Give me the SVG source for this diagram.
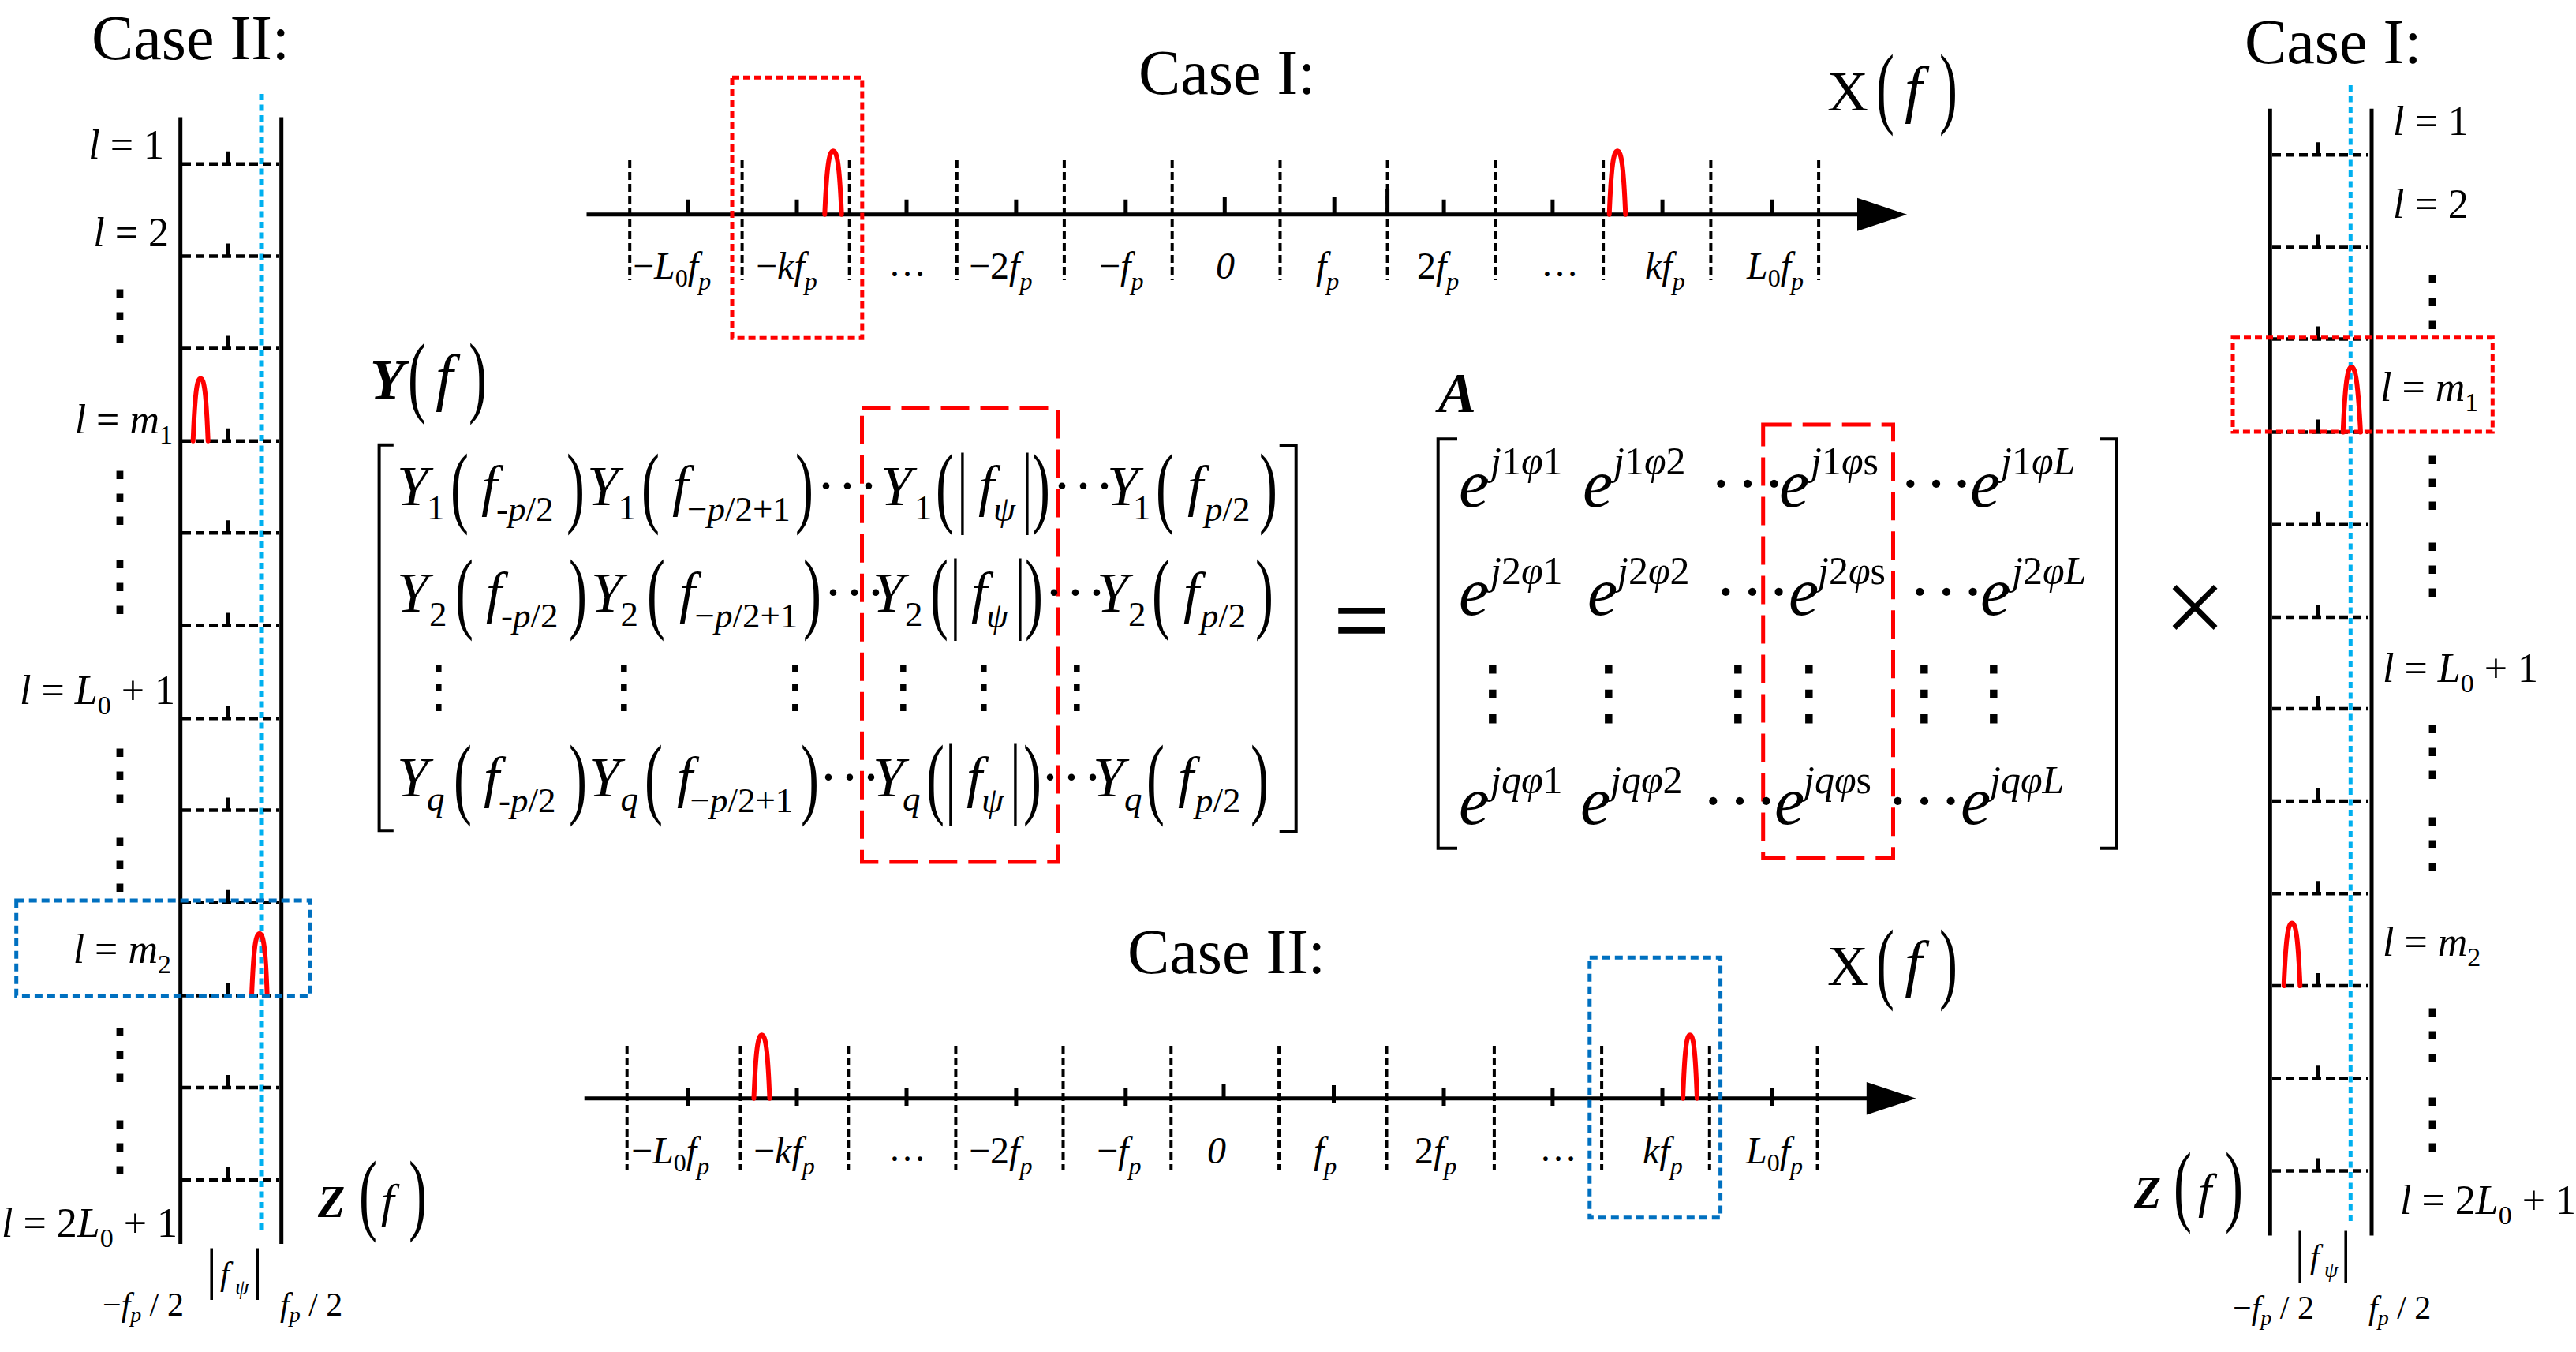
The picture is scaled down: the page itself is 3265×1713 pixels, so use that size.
<svg xmlns="http://www.w3.org/2000/svg" width="3265" height="1713" viewBox="0 0 3265 1713">
<style>
text{font-family:"Liberation Serif","Times New Roman",serif;fill:#000}
.i{font-style:italic}
.b{font-weight:bold}
.case{font-size:80px}
.lab{font-size:52px}
.ls{font-size:34px}
.ax{font-size:48px}
.axs{font-size:32px}
.m{font-size:72px}
.ms{font-size:45px}
.pr{font-size:115px}
.e{font-size:86px}
.sup{font-size:50px}
.bl{font-size:42px}
.bls{font-size:28px}
.vd{font-family:"DejaVu Sans",sans-serif;text-anchor:middle}
.bar{stroke:#000;stroke-width:5;fill:none}
.rung{stroke:#000;stroke-width:4.5;stroke-dasharray:11 6;fill:none}
.tick{stroke:#000;stroke-width:5;fill:none}
.axis{stroke:#000;stroke-width:5;fill:none}
.vdash{stroke:#000;stroke-width:4;stroke-dasharray:10 5;fill:none}
.cyan{stroke:#00B0F0;stroke-width:5;stroke-dasharray:8 5.5;fill:none}
.bump{stroke:#FF0000;stroke-width:6;fill:none;stroke-linecap:round}
.rbox{stroke:#FF0000;stroke-width:5;stroke-dasharray:9 5;fill:none}
.bbox{stroke:#0070C0;stroke-width:5;stroke-dasharray:10 6;fill:none}
.rbig{stroke:#FF0000;stroke-width:5;stroke-dasharray:36 14;fill:none}
.brk{stroke:#000;stroke-width:4;fill:none}
</style>

<!-- Left ladder (Case II) -->
<g id="left-ladder">
<text class="case" x="116" y="75">Case II:</text>
<path class="cyan" d="M331 119V1558"/>
<path class="bar" d="M228.7 148.5V1576M356.7 148.5V1576"/>
<path class="rung" d="M231 207.8H353M231 324.5H353M231 441.6H353M231 558.7H353M231 675.2H353M231 792.4H353M231 910.2H353M231 1026.6H353M231 1143.7H353M231 1261.6H353M231 1378H353M231 1495H353"/>
<path class="tick" d="M289.3 191.8V207.8M289.3 308.5V324.5M289.3 425.6V441.6M289.3 542.7V558.7M289.3 659.2V675.2M289.3 776.4V792.4M289.3 894.2V910.2M289.3 1010.6V1026.6M289.3 1127.7V1143.7M289.3 1245.6V1261.6M289.3 1362V1378M289.3 1479V1495"/>
<path class="bump" d="M244.7 558.7C247 499.2 249.5 479.4 254.2 479.4C258.9 479.4 261.4 499.2 263.7 558.7"/>
<path class="bump" d="M319 1261.6C321.4 1202.7 323.9 1183 329 1183C334.1 1183 336.6 1202.7 338.7 1261.6"/>
<rect class="bbox" x="20.7" y="1141" width="372.3" height="120.6"/>
<text class="lab" x="208" y="201" text-anchor="end"><tspan class="i">l</tspan> = 1</text>
<text class="lab" x="214" y="312" text-anchor="end"><tspan class="i">l</tspan> = 2</text>
<text class="lab" x="219" y="549" text-anchor="end"><tspan class="i">l</tspan> = <tspan class="i">m</tspan><tspan class="ls" dy="13">1</tspan></text>
<text class="lab" x="222" y="892" text-anchor="end"><tspan class="i">l</tspan> = <tspan class="i">L</tspan><tspan class="ls" dy="13">0</tspan><tspan dy="-13"> + 1</tspan></text>
<text class="lab" x="217" y="1220" text-anchor="end"><tspan class="i">l</tspan> = <tspan class="i">m</tspan><tspan class="ls" dy="13">2</tspan></text>
<text class="lab" x="225" y="1567" text-anchor="end"><tspan class="i">l</tspan> = 2<tspan class="i">L</tspan><tspan class="ls" dy="13">0</tspan><tspan dy="-13"> + 1</tspan></text>
<text class="vd" x="152" y="427" font-size="85">⋮</text>
<text class="vd" x="152" y="657" font-size="85">⋮</text>
<text class="vd" x="152" y="770" font-size="85">⋮</text>
<text class="vd" x="152" y="1009" font-size="85">⋮</text>
<text class="vd" x="152" y="1122" font-size="85">⋮</text>
<text class="vd" x="152" y="1363" font-size="85">⋮</text>
<text class="vd" x="152" y="1480" font-size="85">⋮</text>
<text class="b i" x="403" y="1542" font-size="56">Z</text>
<text class="pr" font-size="86" transform="translate(455 1550) scale(0.6 1)">(</text>
<text class="i" x="483" y="1541" font-size="60">f</text>
<text class="pr" font-size="86" transform="translate(518 1550) scale(0.6 1)">)</text>
<text class="bl" x="130" y="1667">−<tspan class="i">f</tspan><tspan class="bls i" dy="8">p</tspan><tspan dy="-8"> / 2</tspan></text>
<text x="261" y="1632" font-size="72">|</text>
<text class="bl i" x="279" y="1628">f</text>
<text class="bls i" x="298" y="1640">ψ</text>
<text x="319" y="1632" font-size="72">|</text>
<text class="bl" x="355" y="1667"><tspan class="i">f</tspan><tspan class="bls i" dy="8">p</tspan><tspan dy="-8"> / 2</tspan></text>
</g>

<!-- Right ladder (Case I) -->
<g id="right-ladder">
<text class="case" x="2845" y="80">Case I:</text>
<path class="cyan" d="M2979.3 108V1549"/>
<path class="bar" d="M2877.3 137.8V1565.5M3006 137.8V1565.5"/>
<path class="rung" d="M2880 196.3H3002M2880 313.4H3002M2880 429.4H3002M2880 547.6H3002M2880 664.8H3002M2880 781.9H3002M2880 898H3002M2880 1015.1H3002M2880 1132.3H3002M2880 1249H3002M2880 1366.3H3002M2880 1483.5H3002"/>
<path class="tick" d="M2938.3 180.3V196.3M2938.3 297.4V313.4M2938.3 413.4V429.4M2938.3 531.6V547.6M2938.3 648.8V664.8M2938.3 765.9V781.9M2938.3 882V898M2938.3 999.1V1015.1M2938.3 1116.3V1132.3M2938.3 1233V1249M2938.3 1350.3V1366.3M2938.3 1467.5V1483.5"/>
<path class="bump" d="M2969.7 547.6C2972.4 485.7 2975.3 465 2980.5 465C2985.7 465 2988.6 485.7 2992 547.6"/>
<path class="bump" d="M2894.7 1249C2897.2 1189.4 2899.9 1169.5 2905 1169.5C2910.1 1169.5 2912.8 1189.4 2915.3 1249"/>
<rect class="rbox" x="2830" y="427.7" width="329.3" height="119.3"/>
<text class="lab" x="3033" y="171"><tspan class="i">l</tspan> = 1</text>
<text class="lab" x="3033" y="275.5"><tspan class="i">l</tspan> = 2</text>
<text class="lab" x="3017" y="508"><tspan class="i">l</tspan> = <tspan class="i">m</tspan><tspan class="ls" dy="13">1</tspan></text>
<text class="lab" x="3020" y="864"><tspan class="i">l</tspan> = <tspan class="i">L</tspan><tspan class="ls" dy="13">0</tspan><tspan dy="-13"> + 1</tspan></text>
<text class="lab" x="3020" y="1210.5"><tspan class="i">l</tspan> = <tspan class="i">m</tspan><tspan class="ls" dy="13">2</tspan></text>
<text class="lab" x="3042" y="1538"><tspan class="i">l</tspan> = 2<tspan class="i">L</tspan><tspan class="ls" dy="13">0</tspan><tspan dy="-13"> + 1</tspan></text>
<text class="vd" x="3083" y="409" font-size="85">⋮</text>
<text class="vd" x="3083" y="638" font-size="85">⋮</text>
<text class="vd" x="3083" y="748" font-size="85">⋮</text>
<text class="vd" x="3083" y="979" font-size="85">⋮</text>
<text class="vd" x="3083" y="1096" font-size="85">⋮</text>
<text class="vd" x="3083" y="1338" font-size="85">⋮</text>
<text class="vd" x="3083" y="1451" font-size="85">⋮</text>
<text class="b i" x="2705" y="1530" font-size="56">Z</text>
<text class="pr" font-size="88" transform="translate(2755 1539) scale(0.6 1)">(</text>
<text class="i" x="2786" y="1530" font-size="62">f</text>
<text class="pr" font-size="88" transform="translate(2820 1539) scale(0.6 1)">)</text>
<text class="bl" x="2830" y="1671">−<tspan class="i">f</tspan><tspan class="bls i" dy="8">p</tspan><tspan dy="-8"> / 2</tspan></text>
<text x="2908" y="1610" font-size="72">|</text>
<text class="bl i" x="2928" y="1606">f</text>
<text class="bls i" x="2946" y="1618">ψ</text>
<text x="2966" y="1610" font-size="72">|</text>
<text class="bl" x="3002" y="1671"><tspan class="i">f</tspan><tspan class="bls i" dy="8">p</tspan><tspan dy="-8"> / 2</tspan></text>
</g>

<!-- Top axis (Case I) -->
<g id="top-axis">
<text class="case" x="1443" y="119">Case I:</text>
<path class="axis" d="M743.5 271.7H2358"/>
<polygon points="2354,250.7 2417,271.7 2354,292.7" fill="#000"/>
<path class="vdash" d="M798.2 203V355M940.6 203V355M1076.7 203V355M1212.8 203V355M1348.9 203V355M1485.7 203V355M1622.5 203V355M1758.6 203V355M1895.4 203V355M2032.1 203V355M2168.4 203V355M2305.1 203V355"/>
<path class="tick" d="M871.9 252.7V271.7M1010 252.7V271.7M1149 252.7V271.7M1287.9 252.7V271.7M1426.8 252.7V271.7M1552.3 249V271.7M1691.2 249V271.7M1758.6 240V271.7M1830.1 252.7V271.7M1967.9 252.7V271.7M2107.1 252.7V271.7M2245.9 252.7V271.7"/>
<path class="bump" d="M1045.3 271.7C1047.9 211.4 1050.7 191.3 1056 191.3C1061.3 191.3 1064.1 211.4 1066.7 271.7"/>
<path class="bump" d="M2039.7 271.7C2042.2 211.4 2044.9 191.3 2050 191.3C2055.1 191.3 2057.8 211.4 2060.3 271.7"/>
<rect class="rbox" x="928" y="98.3" width="164.8" height="330"/>
<text class="ax" x="802" y="353">−<tspan class="i">L</tspan><tspan class="axs" dy="10">0</tspan><tspan class="i" dy="-10">f</tspan><tspan class="axs i" dy="14">p</tspan></text>
<text class="ax" x="958" y="353">−<tspan class="i">kf</tspan><tspan class="axs i" dy="14">p</tspan></text>
<text class="ax" x="1126" y="350" font-size="44">…</text>
<text class="ax" x="1228" y="353">−2<tspan class="i">f</tspan><tspan class="axs i" dy="14">p</tspan></text>
<text class="ax" x="1393" y="353">−<tspan class="i">f</tspan><tspan class="axs i" dy="14">p</tspan></text>
<text class="ax i" x="1541" y="353">0</text>
<text class="ax" x="1668" y="353"><tspan class="i">f</tspan><tspan class="axs i" dy="14">p</tspan></text>
<text class="ax" x="1796" y="353">2<tspan class="i">f</tspan><tspan class="axs i" dy="14">p</tspan></text>
<text class="ax" x="1953" y="350" font-size="44">…</text>
<text class="ax" x="2085" y="353"><tspan class="i">kf</tspan><tspan class="axs i" dy="14">p</tspan></text>
<text class="ax" x="2214" y="353"><tspan class="i">L</tspan><tspan class="axs" dy="10">0</tspan><tspan class="i" dy="-10">f</tspan><tspan class="axs i" dy="14">p</tspan></text>
<text class="m" x="2316" y="140">X</text>
<text class="pr" font-size="103" transform="translate(2378 148.4) scale(0.6 1)">(</text>
<text class="i" x="2414" y="140" font-size="80">f</text>
<text class="pr" font-size="103" transform="translate(2458 148.4) scale(0.6 1)">)</text>
</g>

<!-- Bottom axis (Case II) -->
<g id="bottom-axis">
<text class="case" x="1429" y="1233">Case II:</text>
<path class="axis" d="M740.7 1391.7H2370"/>
<polygon points="2365.8,1371 2428.6,1391.7 2365.8,1412.4" fill="#000"/>
<path class="vdash" d="M794.7 1325V1482M938.5 1325V1482M1075.3 1325V1482M1211.4 1325V1482M1347.5 1325V1482M1484.3 1325V1482M1621.1 1325V1482M1757.5 1325V1482M1893.9 1325V1482M2030.1 1325V1482M2166.8 1325V1482M2303.6 1325V1482"/>
<path class="tick" d="M871.9 1378V1401M1010 1378V1401M1149 1378V1401M1287.9 1378V1401M1426.8 1378V1401M1551 1374V1392M1690.5 1375V1397M1830 1378V1401M1967.9 1378V1401M2107 1378V1401M2246 1378V1401"/>
<path class="bump" d="M955.5 1391.7C957.9 1331.4 960.5 1311.3 965.5 1311.3C970.5 1311.3 973.1 1331.4 975.5 1391.7"/>
<path class="bump" d="M2133 1391.7C2135.2 1331.4 2137.5 1311.3 2142 1311.3C2146.5 1311.3 2148.8 1331.4 2151 1391.7"/>
<rect class="bbox" x="2014.8" y="1213.3" width="165.8" height="329.4"/>
<text class="ax" x="800" y="1474">−<tspan class="i">L</tspan><tspan class="axs" dy="10">0</tspan><tspan class="i" dy="-10">f</tspan><tspan class="axs i" dy="14">p</tspan></text>
<text class="ax" x="955" y="1474">−<tspan class="i">kf</tspan><tspan class="axs i" dy="14">p</tspan></text>
<text class="ax" x="1126" y="1471" font-size="44">…</text>
<text class="ax" x="1228" y="1474">−2<tspan class="i">f</tspan><tspan class="axs i" dy="14">p</tspan></text>
<text class="ax" x="1390" y="1474">−<tspan class="i">f</tspan><tspan class="axs i" dy="14">p</tspan></text>
<text class="ax i" x="1530" y="1474">0</text>
<text class="ax" x="1665" y="1474"><tspan class="i">f</tspan><tspan class="axs i" dy="14">p</tspan></text>
<text class="ax" x="1793" y="1474">2<tspan class="i">f</tspan><tspan class="axs i" dy="14">p</tspan></text>
<text class="ax" x="1951" y="1471" font-size="44">…</text>
<text class="ax" x="2082" y="1474"><tspan class="i">kf</tspan><tspan class="axs i" dy="14">p</tspan></text>
<text class="ax" x="2213" y="1474"><tspan class="i">L</tspan><tspan class="axs" dy="10">0</tspan><tspan class="i" dy="-10">f</tspan><tspan class="axs i" dy="14">p</tspan></text>
<text class="m" x="2316" y="1248">X</text>
<text class="pr" font-size="103" transform="translate(2378 1256.6) scale(0.6 1)">(</text>
<text class="i" x="2414" y="1248" font-size="80">f</text>
<text class="pr" font-size="103" transform="translate(2458 1256.6) scale(0.6 1)">)</text>
</g>

<!-- Matrix Y(f) -->
<g id="matrix-Y">
<text class="b i" x="469" y="505" font-size="72">Y</text>
<text class="pr" font-size="101" transform="translate(517 514) scale(0.6 1)">(</text>
<text class="i" x="552" y="505" font-size="80">f</text>
<text class="pr" font-size="101" transform="translate(594 514) scale(0.6 1)">)</text>
<path class="brk" d="M498.8 563.7H480.6V1052.2H498.8M1621.7 564H1642.7V1053H1621.7"/>
<rect class="rbig" x="1092.5" y="517.6" width="248.2" height="574.4"/>
<!-- row 1 -->
<text class="m i" x="503" y="640">Υ</text><text class="ms" x="541" y="658">1</text>
<text class="pr" transform="translate(571 654.3) scale(0.6 1)">(</text>
<text class="m i" x="610" y="640">f</text><text class="ms" x="629" y="660">-<tspan class="i">p</tspan>/2</text>
<text class="pr" transform="translate(718 654.3) scale(0.6 1)">)</text>
<text class="m i" x="744" y="640">Υ</text><text class="ms" x="783.6" y="658">1</text>
<text class="pr" transform="translate(813 654.3) scale(0.6 1)">(</text>
<text class="m i" x="852" y="640">f</text><text class="ms" x="871" y="660">−<tspan class="i">p</tspan>/2+1</text>
<text class="pr" transform="translate(1008 654.3) scale(0.6 1)">)</text>
<text class="m" x="1035" y="640">·<tspan dx="3">·</tspan><tspan dx="3">·</tspan></text>
<text class="m i" x="1116" y="640">Υ</text><text class="ms" x="1159" y="658">1</text>
<text class="pr" transform="translate(1186 654.3) scale(0.6 1)">(</text>
<text class="pr" transform="translate(1213 654.3) scale(0.6 1)">|</text>
<text class="m i" x="1240" y="640">f</text><text class="ms i" x="1259" y="660">ψ</text>
<text class="pr" transform="translate(1295 654.3) scale(0.6 1)">|</text>
<text class="pr" transform="translate(1308 654.3) scale(0.6 1)">)</text>
<text class="m" x="1334" y="640">·<tspan dx="3">·</tspan><tspan dx="3">·</tspan></text>
<text class="m i" x="1403" y="640">Υ</text><text class="ms" x="1436" y="658">1</text>
<text class="pr" transform="translate(1465 654.3) scale(0.6 1)">(</text>
<text class="m i" x="1505" y="640">f</text><text class="ms" x="1527" y="660"><tspan class="i">p</tspan>/2</text>
<text class="pr" transform="translate(1596 654.3) scale(0.6 1)">)</text>
<!-- row 2 -->
<text class="m i" x="503" y="774.7">Υ</text><text class="ms" x="544" y="792.7">2</text>
<text class="pr" transform="translate(577 788) scale(0.6 1)">(</text>
<text class="m i" x="616" y="774.7">f</text><text class="ms" x="635" y="794.7">-<tspan class="i">p</tspan>/2</text>
<text class="pr" transform="translate(721 788) scale(0.6 1)">)</text>
<text class="m i" x="749" y="774.7">Υ</text><text class="ms" x="786.6" y="792.7">2</text>
<text class="pr" transform="translate(820 788) scale(0.6 1)">(</text>
<text class="m i" x="861" y="774.7">f</text><text class="ms" x="880.5" y="794.7">−<tspan class="i">p</tspan>/2+1</text>
<text class="pr" transform="translate(1018 788) scale(0.6 1)">)</text>
<text class="m" x="1044" y="774.7">·<tspan dx="3">·</tspan><tspan dx="3">·</tspan></text>
<text class="m i" x="1106" y="774.7">Υ</text><text class="ms" x="1147" y="792.7">2</text>
<text class="pr" transform="translate(1179 788) scale(0.6 1)">(</text>
<text class="pr" transform="translate(1204 788) scale(0.6 1)">|</text>
<text class="m i" x="1231" y="774.7">f</text><text class="ms i" x="1250" y="794.7">ψ</text>
<text class="pr" transform="translate(1286 788) scale(0.6 1)">|</text>
<text class="pr" transform="translate(1299 788) scale(0.6 1)">)</text>
<text class="m" x="1324" y="774.7">·<tspan dx="3">·</tspan><tspan dx="3">·</tspan></text>
<text class="m i" x="1390" y="774.7">Υ</text><text class="ms" x="1430" y="792.7">2</text>
<text class="pr" transform="translate(1460 788) scale(0.6 1)">(</text>
<text class="m i" x="1500" y="774.7">f</text><text class="ms" x="1521.7" y="794.7"><tspan class="i">p</tspan>/2</text>
<text class="pr" transform="translate(1591 788) scale(0.6 1)">)</text>
<!-- dots row -->
<text class="vd" x="556" y="894" font-size="73">⋮</text>
<text class="vd" x="791" y="894" font-size="73">⋮</text>
<text class="vd" x="1008" y="894" font-size="73">⋮</text>
<text class="vd" x="1145" y="894" font-size="73">⋮</text>
<text class="vd" x="1247" y="894" font-size="73">⋮</text>
<text class="vd" x="1365" y="894" font-size="73">⋮</text>
<!-- row q -->
<text class="m i" x="503" y="1009.4">Υ</text><text class="ms i" x="541" y="1027.4">q</text>
<text class="pr" transform="translate(575 1022.6) scale(0.6 1)">(</text>
<text class="m i" x="613" y="1009.4">f</text><text class="ms" x="632" y="1029.4">-<tspan class="i">p</tspan>/2</text>
<text class="pr" transform="translate(721 1022.6) scale(0.6 1)">)</text>
<text class="m i" x="746" y="1009.4">Υ</text><text class="ms i" x="786.6" y="1027.4">q</text>
<text class="pr" transform="translate(817 1022.6) scale(0.6 1)">(</text>
<text class="m i" x="858" y="1009.4">f</text><text class="ms" x="874.5" y="1029.4">−<tspan class="i">p</tspan>/2+1</text>
<text class="pr" transform="translate(1015 1022.6) scale(0.6 1)">)</text>
<text class="m" x="1038" y="1009.4">·<tspan dx="3">·</tspan><tspan dx="3">·</tspan></text>
<text class="m i" x="1106" y="1009.4">Υ</text><text class="ms i" x="1144" y="1027.4">q</text>
<text class="pr" transform="translate(1174 1022.6) scale(0.6 1)">(</text>
<text class="pr" transform="translate(1198 1022.6) scale(0.6 1)">|</text>
<text class="m i" x="1225" y="1009.4">f</text><text class="ms i" x="1244" y="1029.4">ψ</text>
<text class="pr" transform="translate(1280 1022.6) scale(0.6 1)">|</text>
<text class="pr" transform="translate(1297 1022.6) scale(0.6 1)">)</text>
<text class="m" x="1319" y="1009.4">·<tspan dx="3">·</tspan><tspan dx="3">·</tspan></text>
<text class="m i" x="1385" y="1009.4">Υ</text><text class="ms i" x="1425" y="1027.4">q</text>
<text class="pr" transform="translate(1453 1022.6) scale(0.6 1)">(</text>
<text class="m i" x="1493" y="1009.4">f</text><text class="ms" x="1515" y="1029.4"><tspan class="i">p</tspan>/2</text>
<text class="pr" transform="translate(1585 1022.6) scale(0.6 1)">)</text>
</g>

<g id="equals">
<text x="1726" y="828" font-size="125" text-anchor="middle" stroke="#000" stroke-width="1.5">=</text>
</g>

<!-- Matrix A -->
<g id="matrix-A">
<text class="b i" x="1823" y="521.6" font-size="72">A</text>
<path class="brk" d="M1847 556.3H1822.7V1074.7H1847M2662 556.3H2683V1074.7H2662"/>
<rect class="rbig" x="2234.7" y="538" width="164.8" height="549"/>
<!-- row 1 -->
<text class="e i" x="1849" y="642">e</text><text class="sup" x="1889" y="601"><tspan class="i">j</tspan>1<tspan class="i">φ</tspan>1</text>
<text class="e i" x="2006" y="642">e</text><text class="sup" x="2045" y="601"><tspan class="i">j</tspan>1<tspan class="i">φ</tspan>2</text>
<text class="e" x="2167" y="642">·<tspan dx="5">·</tspan><tspan dx="5">·</tspan></text>
<text class="e i" x="2255" y="642">e</text><text class="sup" x="2295" y="601"><tspan class="i">j</tspan>1<tspan class="i">φ</tspan>s</text>
<text class="e" x="2407" y="642">·<tspan dx="4">·</tspan><tspan dx="4">·</tspan></text>
<text class="e i" x="2497" y="642">e</text><text class="sup" x="2536" y="601"><tspan class="i">j</tspan>1<tspan class="i">φL</tspan></text>
<!-- row 2 -->
<text class="e i" x="1849" y="778.8">e</text><text class="sup" x="1889" y="740"><tspan class="i">j</tspan>2<tspan class="i">φ</tspan>1</text>
<text class="e i" x="2012" y="778.8">e</text><text class="sup" x="2050" y="740"><tspan class="i">j</tspan>2<tspan class="i">φ</tspan>2</text>
<text class="e" x="2173" y="778.8">·<tspan dx="5">·</tspan><tspan dx="5">·</tspan></text>
<text class="e i" x="2267" y="778.8">e</text><text class="sup" x="2304" y="740"><tspan class="i">j</tspan>2<tspan class="i">φ</tspan>s</text>
<text class="e" x="2419" y="778.8">·<tspan dx="5">·</tspan><tspan dx="5">·</tspan></text>
<text class="e i" x="2510" y="778.8">e</text><text class="sup" x="2550" y="740"><tspan class="i">j</tspan>2<tspan class="i">φL</tspan></text>
<!-- dots row -->
<text class="vd" x="1892" y="908" font-size="92">⋮</text>
<text class="vd" x="2039" y="908" font-size="92">⋮</text>
<text class="vd" x="2203" y="908" font-size="92">⋮</text>
<text class="vd" x="2293" y="908" font-size="92">⋮</text>
<text class="vd" x="2439" y="908" font-size="92">⋮</text>
<text class="vd" x="2527" y="908" font-size="92">⋮</text>
<!-- row q -->
<text class="e i" x="1849" y="1044">e</text><text class="sup" x="1889" y="1005"><tspan class="i">jqφ</tspan>1</text>
<text class="e i" x="2003" y="1044">e</text><text class="sup" x="2041" y="1005"><tspan class="i">jqφ</tspan>2</text>
<text class="e" x="2157" y="1044">·<tspan dx="5">·</tspan><tspan dx="5">·</tspan></text>
<text class="e i" x="2249" y="1044">e</text><text class="sup" x="2286" y="1005"><tspan class="i">jqφ</tspan>s</text>
<text class="e" x="2391" y="1044">·<tspan dx="5">·</tspan><tspan dx="5">·</tspan></text>
<text class="e i" x="2485" y="1044">e</text><text class="sup i" x="2522" y="1005">jqφL</text>
</g>

<g id="times">
<text x="2782" y="816" font-size="140" text-anchor="middle">×</text>
</g>
</svg>
